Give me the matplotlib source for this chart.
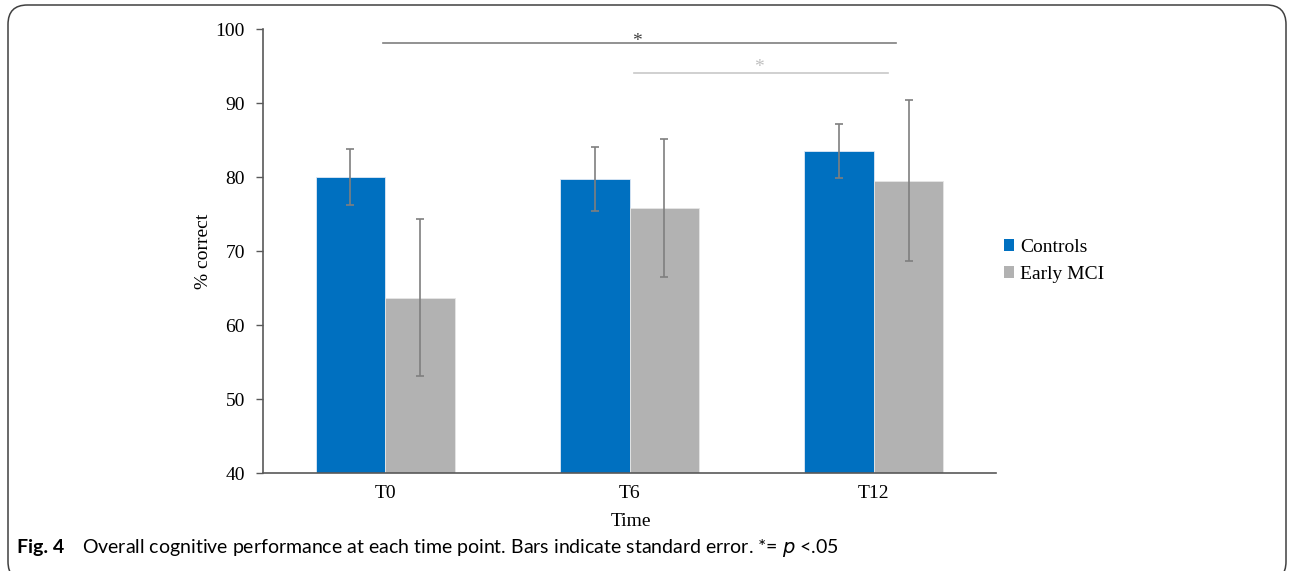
import matplotlib.pyplot as plt
import matplotlib.patches as mpatches
from matplotlib.patches import FancyBboxPatch
import numpy as np

# Data
time_points = ['T0', 'T6', 'T12']
controls_mean = [80.0, 79.7, 83.5]
controls_se = [3.8, 4.35, 3.7]
mci_mean = [63.7, 75.8, 79.5]
mci_se = [10.6, 9.35, 10.85]

# significance brackets: (x start, x end, y, colour)
sig_lines = [(-0.01, 2.09, 98.1, '#7f7f7f'), (1.02, 2.06, 94.05, '#c8c8c8')]

blue = '#0070c0'
grey = '#b2b2b2'
serif = 'Liberation Serif'

fig = plt.figure(figsize=(12.92, 5.71), dpi=100, facecolor='white')
ax = fig.add_axes([263 / 1292, 1 - 473 / 571, (996 - 263) / 1292, (473 - 29) / 571])

x = np.arange(len(time_points))
w = 0.285
err_kw = dict(ecolor='#7f7f7f', elinewidth=1.2, capsize=3, capthick=1.2)
ax.bar(x - w / 2, controls_mean, w, yerr=controls_se, color=blue, edgecolor='#dfe9f5',
       linewidth=0.6, error_kw=err_kw, label='Controls', zorder=2)
ax.bar(x + w / 2, mci_mean, w, yerr=mci_se, color=grey, edgecolor='#e6e6e6',
       linewidth=0.6, error_kw=err_kw, label='Early MCI', zorder=2)

# significance markers
for x0, x1, y, c in sig_lines:
    ax.plot([x0, x1], [y, y], color=c, linewidth=1.2, clip_on=False, zorder=3)
ax.text(1.03, 98.35, '*', color='#404040', fontsize=14, ha='center', va='center', family=serif)
ax.text(1.53, 94.8, '*', color='#c0c0c0', fontsize=14, ha='center', va='center', family=serif)

ax.set_xlim(-0.5, 2.5)
ax.set_ylim(40, 100)
ax.set_yticks(range(40, 101, 10))
ax.set_xticks(x)
ax.set_xticklabels(time_points)
for lbl in ax.get_xticklabels() + ax.get_yticklabels():
    lbl.set_family(serif)
    lbl.set_fontsize(14)
    lbl.set_color('black')
ax.tick_params(axis='x', length=0, pad=9)
ax.tick_params(axis='y', length=5, width=1, color='#595959', pad=8)
for s in ['top', 'right']:
    ax.spines[s].set_visible(False)
for s in ['left', 'bottom']:
    ax.spines[s].set_color('#595959')
    ax.spines[s].set_linewidth(1.2)

fig.text(203 / 1292, 1 - 251 / 571, '% correct', rotation=90, ha='center', va='center',
         fontsize=14, family=serif)
fig.text(631 / 1292, 1 - 522 / 571, 'Time', ha='center', va='center', fontsize=14, family=serif)

handles = [mpatches.Patch(facecolor=blue, label='Controls'),
           mpatches.Patch(facecolor=grey, label='Early MCI')]
fig.legend(handles=handles, loc='center left', bbox_to_anchor=(986 / 1292, 1 - 261 / 571),
           frameon=False, handlelength=0.55, handleheight=0.55, handletextpad=0.3,
           labelspacing=0.5, prop={'family': serif, 'size': 14})

# caption
fig.text(17 / 1292, 1 - 548 / 571, 'Fig. 4', fontsize=14, fontweight='bold',
         family='Lato', ha='left', va='center')
fig.text(82 / 1292, 1 - 548 / 571,
         'Overall cognitive performance at each time point. Bars indicate standard error. *= $p$ <.05',
         fontsize=14, family='Lato', ha='left', va='center')

# rounded frame around the figure
frame = FancyBboxPatch((8 / 1292, -10 / 571), (1286 - 8) / 1292, (566 + 10) / 571,
                       boxstyle='round,pad=0,rounding_size=0.015', transform=fig.transFigure,
                       facecolor='none', edgecolor='#404040', linewidth=1.1, clip_on=False,
                       mutation_aspect=1292 / 571)
fig.patches.append(frame)

fig.savefig('out.png', dpi=100, facecolor='white')
